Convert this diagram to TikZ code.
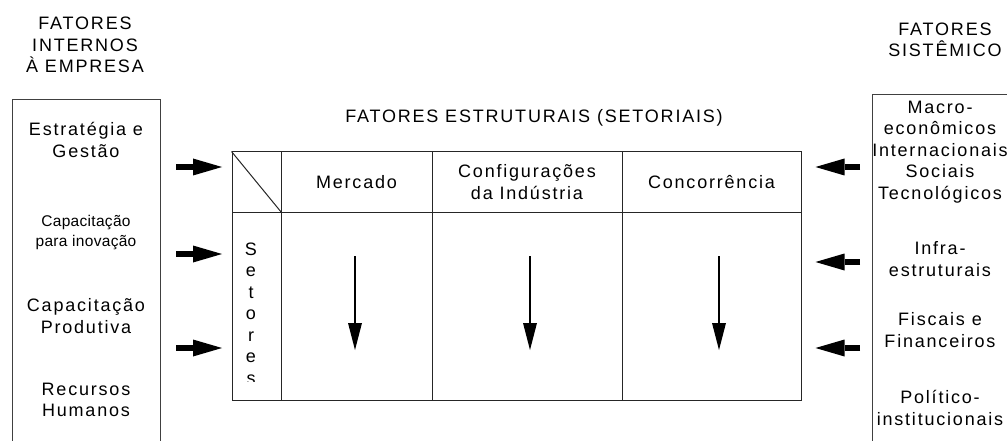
\documentclass[tikz,border=0pt]{standalone}
\usepackage{fontspec}
\setmainfont{Liberation Sans}[LetterSpace=10]
\usetikzlibrary{arrows.meta}

\begin{document}
\begin{tikzpicture}[x=1pt,y=-1pt,
	box/.style={draw=black!75,line width=1pt,inner sep=0pt},
	cell/.style={draw=black!85,line width=1pt,inner sep=0pt},
	lbl/.style={align=center,font=\fontsize{18}{21.5}\selectfont},
	small/.style={align=center,font=\fontsize{15.5}{20}\selectfont\addfontfeatures{LetterSpace=2}},
	fatarrow/.style={line width=6pt,-{Triangle[length=29pt,width=17pt,line width=0pt]}},
	downarrow/.style={line width=1.2pt,-{Triangle[length=27pt,width=14pt,line width=0pt]}}]

	\clip (0,0) rectangle (1007,441);

	\node[box,minimum width=148,minimum height=380,anchor=north west] (lbox) at (12,99) {};
	\node[box,minimum width=150,minimum height=380,anchor=north west] (rbox) at (872,94) {};

	\node[lbl] (titint) at (85,45) {FATORES\\INTERNOS\\À EMPRESA};
	\node[lbl] (titsis) at (945,40) {FATORES\\SISTÊMICO};
	\node[lbl] (titest) at (534,118) {FATORES ESTRUTURAIS (SETORIAIS)};

	\node[lbl] (estrat) at (86,140) {Estratégia e\\Gestão};
	\node[small] (inov) at (86,233) {Capacitação\\para inovação};
	\node[lbl] (prod) at (86,316) {Capacitação\\Produtiva};
	\node[lbl] (rh) at (86,400) {Recursos\\Humanos};

	\node[lbl] (macro) at (940,152) {Macro-\\econômicos\\Internacionais\\Sociais\\Tecnológicos};
	\node[lbl] (infra) at (940,259) {Infra-\\estruturais};
	\node[lbl] (fisc) at (940,330) {Fiscais e\\Financeiros};
	\node[lbl] (polit) at (940,408) {Político-\\institucionais};

	\node[cell,minimum width=49,minimum height=60] (canto) at (256.5,182) {};
	\node[cell,lbl,minimum width=151,minimum height=60] (merc) at (356.5,182) {Mercado};
	\node[cell,lbl,minimum width=190,minimum height=60] (conf) at (527,182) {Configurações\\da Indústria};
	\node[cell,lbl,minimum width=179,minimum height=60] (conc) at (711.5,182) {Concorrência};
	\node[cell,minimum width=49,minimum height=188] (set) at (256.5,306) {};
	\node[cell,minimum width=151,minimum height=188] (mercb) at (356.5,306) {};
	\node[cell,minimum width=190,minimum height=188] (confb) at (527,306) {};
	\node[cell,minimum width=179,minimum height=188] (concb) at (711.5,306) {};
	\draw[draw=black!85,line width=1pt] (canto.north west) -- (canto.south east);

	\begin{scope}
		\clip (233,213) rectangle (280,381);
		\node[lbl,inner sep=0pt,anchor=north] (setores) at (251,242.5) {S\\e\\t\\o\\r\\e\\s};
	\end{scope}

	\foreach \x/\n in {355/merc,530/conf,719/conc}{
		\coordinate (\n-top) at (\x,256);
		\coordinate (\n-bot) at (\x,350);
		\draw[downarrow] (\n-top) -- (\n-bot);
	}

	\foreach \y/\n in {167/1,254/2,348/3}{
		\coordinate (int\n) at (176,\y);
		\draw[fatarrow,shorten >=9.5pt] (int\n) -- (canto.west |- int\n);
	}
	\foreach \y/\n in {167/1,262/2,348/3}{
		\coordinate (sis\n) at (860,\y);
		\draw[fatarrow,shorten >=14pt] (sis\n) -- (conc.east |- sis\n);
	}

\end{tikzpicture}
\end{document}
